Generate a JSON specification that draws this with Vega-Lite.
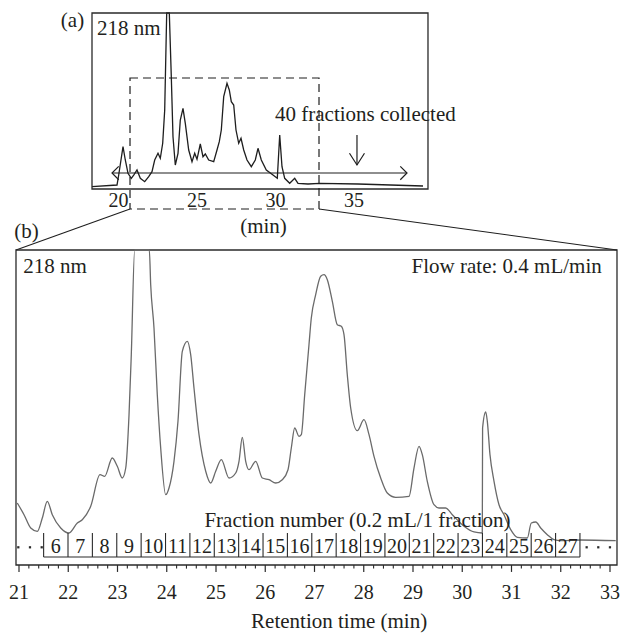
{
  "$schema": "https://vega.github.io/schema/vega-lite/v6.json",
  "width": 633,
  "height": 633,
  "autosize": {"type": "none"},
  "padding": 0,
  "background": "white",
  "config": {
    "view": {"stroke": null},
    "text": {"font": "Liberation Serif", "fontSize": 21, "fill": "#231f20", "baseline": "alphabetic"}
  },
  "datasets": {
    "inset": [
      {"t":18.312,"u":1.31},{"t":19.904,"u":2.27},{"t":20.013,"u":7.95},{"t":20.287,"u":24.03},{"t":20.433,"u":16.48},{"t":20.605,"u":8.92},{"t":20.815,"u":6.08},{"t":20.968,"u":7.95},{"t":21.178,"u":10.80},{"t":21.389,"u":6.08},{"t":21.669,"u":4.15},{"t":21.924,"u":6.99},{"t":22.134,"u":9.83},{"t":22.306,"u":16.48},{"t":22.516,"u":20.28},{"t":22.662,"u":17.44},{"t":22.815,"u":25.97},{"t":22.943,"u":44.89},{"t":23.070,"u":100},{"t":23.236,"u":100},{"t":23.363,"u":63.81},{"t":23.471,"u":29.72},{"t":23.618,"u":13.64},{"t":23.790,"u":20.28},{"t":23.936,"u":39.20},{"t":24.108,"u":45.85},{"t":24.255,"u":37.33},{"t":24.471,"u":22.16},{"t":24.682,"u":15.51},{"t":24.854,"u":20.28},{"t":25.000,"u":16.88},{"t":25.210,"u":25.57},{"t":25.382,"u":18.35},{"t":25.529,"u":19.89},{"t":25.745,"u":16.48},{"t":26.064,"u":15.51},{"t":26.274,"u":22.16},{"t":26.420,"u":26.88},{"t":26.548,"u":33.52},{"t":26.701,"u":52.44},{"t":26.911,"u":60.06},{"t":27.057,"u":56.25},{"t":27.185,"u":49.60},{"t":27.338,"u":47.73},{"t":27.484,"u":33.52},{"t":27.656,"u":25.97},{"t":27.803,"u":28.81},{"t":27.975,"u":22.16},{"t":28.185,"u":16.48},{"t":28.459,"u":12.67},{"t":28.713,"u":16.48},{"t":28.885,"u":23.13},{"t":29.096,"u":16.48},{"t":29.414,"u":10.80},{"t":29.841,"u":7.95},{"t":30.115,"u":6.08},{"t":30.268,"u":30.68},{"t":30.414,"u":12.67},{"t":30.586,"u":6.08},{"t":30.904,"u":3.24},{"t":31.223,"u":6.08},{"t":31.433,"u":3.24},{"t":32.070,"u":2.84},{"t":32.815,"u":3.24},{"t":35.255,"u":2.84},{"t":39.395,"u":1.70}
    ],
    "main": [
      {"t":20.965,"v":19.68},{"t":21.102,"v":15.97},{"t":21.238,"v":11.75},{"t":21.372,"v":10.70},{"t":21.473,"v":14.92},{"t":21.575,"v":20.22},{"t":21.676,"v":15.97},{"t":21.847,"v":11.75},{"t":22.015,"v":10.16},{"t":22.184,"v":13.33},{"t":22.285,"v":14.38},{"t":22.456,"v":18.63},{"t":22.645,"v":28.67},{"t":22.740,"v":28.16},{"t":22.894,"v":33.97},{"t":22.996,"v":31.33},{"t":23.097,"v":27.62},{"t":23.167,"v":30.79},{"t":23.234,"v":47.71},{"t":23.280,"v":66.76},{"t":23.349,"v":100},{"t":23.646,"v":100},{"t":23.674,"v":88.98},{"t":23.741,"v":75.24},{"t":23.808,"v":54.06},{"t":23.877,"v":37.14},{"t":23.979,"v":22.32},{"t":24.046,"v":24.44},{"t":24.147,"v":32.92},{"t":24.228,"v":45.62},{"t":24.316,"v":67.84},{"t":24.417,"v":71.02},{"t":24.486,"v":66.76},{"t":24.553,"v":56.19},{"t":24.655,"v":41.37},{"t":24.791,"v":29.75},{"t":24.892,"v":26.03},{"t":24.994,"v":29.75},{"t":25.108,"v":33.43},{"t":25.264,"v":27.62},{"t":25.400,"v":29.21},{"t":25.467,"v":32.92},{"t":25.534,"v":40.54},{"t":25.603,"v":32.92},{"t":25.670,"v":30.25},{"t":25.806,"v":32.92},{"t":25.940,"v":27.62},{"t":26.076,"v":27.08},{"t":26.212,"v":26.03},{"t":26.346,"v":27.08},{"t":26.462,"v":30.25},{"t":26.529,"v":37.14},{"t":26.598,"v":43.49},{"t":26.685,"v":40.86},{"t":26.732,"v":41.37},{"t":26.801,"v":54.06},{"t":26.888,"v":69.94},{"t":26.935,"v":78.41},{"t":27.024,"v":85.81},{"t":27.126,"v":91.65},{"t":27.193,"v":92.16},{"t":27.260,"v":90.57},{"t":27.362,"v":83.71},{"t":27.463,"v":76.29},{"t":27.544,"v":75.78},{"t":27.599,"v":73.11},{"t":27.666,"v":60.41},{"t":27.735,"v":49.84},{"t":27.869,"v":42.63},{"t":28.005,"v":46.13},{"t":28.107,"v":41.37},{"t":28.208,"v":34.51},{"t":28.344,"v":27.62},{"t":28.478,"v":22.86},{"t":28.649,"v":21.49},{"t":28.919,"v":21.81},{"t":29.020,"v":30.79},{"t":29.122,"v":37.68},{"t":29.189,"v":35.02},{"t":29.290,"v":26.57},{"t":29.426,"v":19.14},{"t":29.528,"v":18.10},{"t":29.664,"v":18.10},{"t":29.798,"v":15.97},{"t":30.036,"v":12.29},{"t":30.239,"v":10.48},{"t":30.407,"v":10.16},{"t":30.413,"v":43.49},{"t":30.476,"v":48.57},{"t":30.509,"v":45.62},{"t":30.563,"v":35.02},{"t":30.645,"v":26.57},{"t":30.746,"v":19.14},{"t":30.848,"v":15.97},{"t":30.984,"v":11.21},{"t":31.118,"v":8.79},{"t":31.321,"v":8.57},{"t":31.402,"v":13.33},{"t":31.492,"v":13.65},{"t":31.593,"v":11.75},{"t":31.727,"v":9.62},{"t":31.863,"v":8.03},{"t":31.999,"v":7.71},{"t":32.405,"v":7.94},{"t":33.116,"v":7.71}
    ],
    "fractions": [
      {"fraction":6,"t":21.500,"t2":21.995},{"fraction":7,"t":21.995,"t2":22.490},{"fraction":8,"t":22.490,"t2":22.985},{"fraction":9,"t":22.985,"t2":23.480},{"fraction":10,"t":23.480,"t2":23.975},{"fraction":11,"t":23.975,"t2":24.470},{"fraction":12,"t":24.470,"t2":24.965},{"fraction":13,"t":24.965,"t2":25.460},{"fraction":14,"t":25.460,"t2":25.955},{"fraction":15,"t":25.955,"t2":26.450},{"fraction":16,"t":26.450,"t2":26.945},{"fraction":17,"t":26.945,"t2":27.440},{"fraction":18,"t":27.440,"t2":27.935},{"fraction":19,"t":27.935,"t2":28.430},{"fraction":20,"t":28.430,"t2":28.925},{"fraction":21,"t":28.925,"t2":29.420},{"fraction":22,"t":29.420,"t2":29.915},{"fraction":23,"t":29.915,"t2":30.410},{"fraction":24,"t":30.410,"t2":30.905},{"fraction":25,"t":30.905,"t2":31.400},{"fraction":26,"t":31.400,"t2":31.895},{"fraction":27,"t":31.895,"t2":32.390}
    ],
    "majorTicks": [
      {"t":21},{"t":22},{"t":23},{"t":24},{"t":25},{"t":26},{"t":27},{"t":28},{"t":29},{"t":30},{"t":31},{"t":32},{"t":33}
    ],
    "minorTicks": [
      {"t":21.2},{"t":21.4},{"t":21.6},{"t":21.8},{"t":22.2},{"t":22.4},{"t":22.6},{"t":22.8},{"t":23.2},{"t":23.4},{"t":23.6},{"t":23.8},{"t":24.2},{"t":24.4},{"t":24.6},{"t":24.8},{"t":25.2},{"t":25.4},{"t":25.6},{"t":25.8},{"t":26.2},{"t":26.4},{"t":26.6},{"t":26.8},{"t":27.2},{"t":27.4},{"t":27.6},{"t":27.8},{"t":28.2},{"t":28.4},{"t":28.6},{"t":28.8},{"t":29.2},{"t":29.4},{"t":29.6},{"t":29.8},{"t":30.2},{"t":30.4},{"t":30.6},{"t":30.8},{"t":31.2},{"t":31.4},{"t":31.6},{"t":31.8},{"t":32.2},{"t":32.4},{"t":32.6},{"t":32.8}
    ],
    "dots": [
      {"t":20.986},{"t":21.223},{"t":21.461},{"t":32.526},{"t":32.762},{"t":32.999}
    ],
    "insetTicks": [{"t":20},{"t":25},{"t":30},{"t":35}]
  },
  "layer": [
    {
      "layer": [
        {
          "data": {"name": "inset"},
          "mark": {"type": "line", "color": "#1e1e1e", "strokeWidth": 1.3},
          "encoding": {
            "x": {"field": "t", "type": "quantitative", "scale": {"domain": [12.452, 52.771], "nice": false, "zero": false}, "axis": null},
            "y": {"field": "u", "type": "quantitative", "scale": {"domain": [-252.27, 107.39], "nice": false, "zero": false}, "axis": null}
          }
        },
        {
          "data": {"values": [{}]},
          "mark": {"type": "rect", "fill": "transparent", "stroke": "#2a2a2a", "strokeWidth": 1.3},
          "encoding": {"x": {"datum": 18.312, "axis": null}, "x2": {"datum": 39.713}, "y": {"datum": 0, "axis": null}, "y2": {"datum": 100}}
        },
        {
          "data": {"values": [{}]},
          "mark": {"type": "rect", "fill": "transparent", "stroke": "#1e1e1e", "strokeWidth": 1.2, "strokeDash": [8, 5]},
          "encoding": {"x": {"datum": 20.733, "axis": null}, "x2": {"datum": 32.771}, "y": {"datum": -11.36, "axis": null}, "y2": {"datum": 63.07}}
        },
        {
          "data": {"values": [{}]},
          "mark": {"type": "rule", "color": "#1e1e1e", "strokeWidth": 1.2},
          "encoding": {"x": {"datum": 19.586, "axis": null}, "x2": {"datum": 38.376}, "y": {"datum": 9.09, "axis": null}}
        },
        {
          "data": {"values": [{}]},
          "mark": {"type": "point", "shape": "M 1 -1 L 0 0 L 1 1", "size": 180, "filled": false, "opacity": 1, "color": "#1e1e1e", "strokeWidth": 1.2},
          "encoding": {"x": {"datum": 19.586, "axis": null}, "y": {"datum": 9.09, "axis": null}}
        },
        {
          "data": {"values": [{}]},
          "mark": {"type": "point", "shape": "M -1 -1 L 0 0 L -1 1", "size": 180, "filled": false, "opacity": 1, "color": "#1e1e1e", "strokeWidth": 1.2},
          "encoding": {"x": {"datum": 38.376, "axis": null}, "y": {"datum": 9.09, "axis": null}}
        },
        {
          "data": {"values": [{}]},
          "mark": {"type": "rule", "color": "#1e1e1e", "strokeWidth": 1.2},
          "encoding": {"x": {"datum": 35.19, "axis": null}, "y": {"datum": 30.68, "axis": null}, "y2": {"datum": 13.64}}
        },
        {
          "data": {"values": [{}]},
          "mark": {"type": "point", "shape": "M -0.64 -1 L 0 0 L 0.64 -1", "size": 548, "filled": false, "opacity": 1, "color": "#1e1e1e", "strokeWidth": 1.2},
          "encoding": {"x": {"datum": 35.19, "axis": null}, "y": {"datum": 13.64, "axis": null}}
        },
        {
          "data": {"values": [{}]},
          "mark": {"type": "rule", "color": "#1e1e1e", "strokeWidth": 1.1},
          "encoding": {"x": {"datum": 20.733, "axis": null}, "y": {"datum": -11.36, "axis": null}, "x2": {"datum": 13.471}, "y2": {"datum": -34.66}}
        },
        {
          "data": {"values": [{}]},
          "mark": {"type": "rule", "color": "#1e1e1e", "strokeWidth": 1.1},
          "encoding": {"x": {"datum": 32.771, "axis": null}, "y": {"datum": -11.36, "axis": null}, "x2": {"datum": 51.752}, "y2": {"datum": -34.66}}
        },
        {
          "data": {"values": [{}]},
          "mark": {"type": "text", "text": "(a)", "align": "center"},
          "encoding": {"x": {"datum": 17.07, "axis": null}, "y": {"datum": 92.2, "axis": null}}
        },
        {
          "data": {"values": [{}]},
          "mark": {"type": "text", "text": "218 nm", "align": "left"},
          "encoding": {"x": {"datum": 18.631, "axis": null}, "y": {"datum": 87.78, "axis": null}}
        },
        {
          "data": {"values": [{}]},
          "mark": {"type": "text", "text": "40 fractions collected", "align": "left"},
          "encoding": {"x": {"datum": 29.968, "axis": null}, "y": {"datum": 38.81, "axis": null}}
        },
        {
          "data": {"name": "insetTicks"},
          "mark": {"type": "text", "align": "center", "fontSize": 20},
          "encoding": {
            "x": {"field": "t", "type": "quantitative", "axis": null},
            "y": {"datum": -10.06, "axis": null},
            "text": {"field": "t", "type": "quantitative", "format": "d"}
          }
        },
        {
          "data": {"values": [{}]},
          "mark": {"type": "text", "text": "(min)", "align": "center"},
          "encoding": {"x": {"datum": 29.236, "axis": null}, "y": {"datum": -25.2, "axis": null}}
        }
      ]
    },
    {
      "layer": [
        {
          "data": {"values": [{}]},
          "mark": {"type": "rect", "fill": "transparent", "stroke": "#2a2a2a", "strokeWidth": 1.3},
          "encoding": {"x": {"datum": 20.939, "axis": null}, "x2": {"datum": 33.142}, "y": {"datum": 0, "axis": null}, "y2": {"datum": 100}}
        },
        {
          "data": {"name": "main"},
          "mark": {"type": "line", "color": "#6a6a6a", "strokeWidth": 1.3, "interpolate": "monotone"},
          "encoding": {
            "x": {"field": "t", "type": "quantitative", "title": "Retention time (min)", "scale": {"domain": [20.6142, 33.467], "nice": false, "zero": false}, "axis": null},
            "y": {"field": "v", "type": "quantitative", "scale": {"domain": [-21.587, 179.365], "nice": false, "zero": false}, "axis": null}
          }
        },
        {
          "data": {"name": "majorTicks"},
          "mark": {"type": "rule", "color": "#2a2a2a", "strokeWidth": 1.2},
          "encoding": {"x": {"field": "t", "type": "quantitative", "axis": null}, "y": {"datum": 0, "axis": null}, "y2": {"datum": -2.2}}
        },
        {
          "data": {"name": "majorTicks"},
          "mark": {"type": "text", "align": "center", "fontSize": 20},
          "encoding": {
            "x": {"field": "t", "type": "quantitative", "axis": null},
            "y": {"datum": -10.89, "axis": null},
            "text": {"field": "t", "type": "quantitative", "format": "d"}
          }
        },
        {
          "data": {"values": [{}]},
          "mark": {"type": "text", "text": "Retention time (min)", "align": "center"},
          "encoding": {"x": {"datum": 27.5, "axis": null}, "y": {"datum": -20.0, "axis": null}}
        },
        {
          "data": {"name": "minorTicks"},
          "mark": {"type": "rule", "color": "#2a2a2a", "strokeWidth": 1.1},
          "encoding": {"x": {"field": "t", "type": "quantitative", "axis": null}, "y": {"datum": 0, "axis": null}, "y2": {"datum": -1.15}}
        },
        {
          "data": {"name": "fractions"},
          "mark": {"type": "rule", "color": "#2a2a2a", "strokeWidth": 1.1},
          "encoding": {"x": {"field": "t", "type": "quantitative", "axis": null}, "y": {"datum": 2.54, "axis": null}, "y2": {"datum": 10.16}}
        },
        {
          "data": {"name": "fractions"},
          "transform": [{"filter": "datum.fraction == 27"}],
          "mark": {"type": "rule", "color": "#2a2a2a", "strokeWidth": 1.1},
          "encoding": {"x": {"field": "t2", "type": "quantitative", "axis": null}, "y": {"datum": 2.54, "axis": null}, "y2": {"datum": 10.16}}
        },
        {
          "data": {"values": [{}]},
          "mark": {"type": "rule", "color": "#2a2a2a", "strokeWidth": 1.1},
          "encoding": {"x": {"datum": 21.5, "axis": null}, "x2": {"datum": 32.39}, "y": {"datum": 2.54, "axis": null}}
        },
        {
          "data": {"name": "fractions"},
          "transform": [{"calculate": "(datum.t + datum.t2) / 2", "as": "mid"}],
          "mark": {"type": "text", "align": "center", "fontSize": 20},
          "encoding": {
            "x": {"field": "mid", "type": "quantitative", "axis": null},
            "y": {"datum": 3.71, "axis": null},
            "text": {"field": "fraction", "type": "quantitative", "format": "d"}
          }
        },
        {
          "data": {"name": "dots"},
          "mark": {"type": "point", "shape": "square", "size": 5, "filled": true, "opacity": 1, "color": "#2a2a2a"},
          "encoding": {"x": {"field": "t", "type": "quantitative", "axis": null}, "y": {"datum": 5.62, "axis": null}}
        },
        {
          "data": {"values": [{}]},
          "mark": {"type": "text", "text": "(b)", "align": "center"},
          "encoding": {"x": {"datum": 21.152, "axis": null}, "y": {"datum": 103.7, "axis": null}}
        },
        {
          "data": {"values": [{}]},
          "mark": {"type": "text", "text": "218 nm", "align": "left"},
          "encoding": {"x": {"datum": 21.087, "axis": null}, "y": {"datum": 92.6, "axis": null}}
        },
        {
          "data": {"values": [{}]},
          "mark": {"type": "text", "text": "Flow rate: 0.4 mL/min", "align": "right"},
          "encoding": {"x": {"datum": 32.832, "axis": null}, "y": {"datum": 92.6, "axis": null}}
        },
        {
          "data": {"values": [{}]},
          "mark": {"type": "text", "text": "Fraction number (0.2 mL/1 fraction)", "align": "center"},
          "encoding": {"x": {"datum": 27.873, "axis": null}, "y": {"datum": 12.16, "axis": null}}
        }
      ]
    }
  ],
  "resolve": {"scale": {"x": "independent", "y": "independent"}}
}
